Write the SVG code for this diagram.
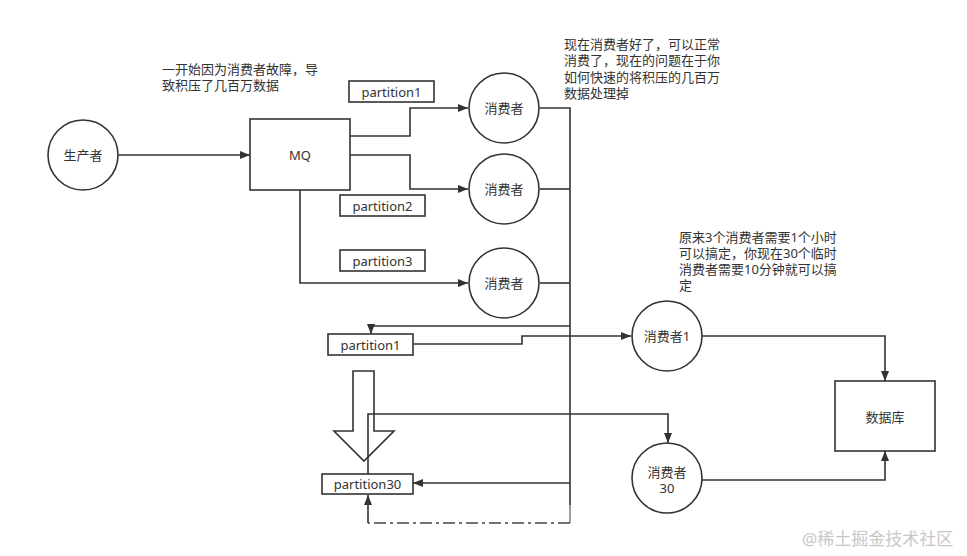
<svg xmlns="http://www.w3.org/2000/svg" width="967" height="556" viewBox="0 0 967 556">
<defs>
<marker id="ah" viewBox="0 0 10 8" refX="10" refY="4" markerWidth="10" markerHeight="8" markerUnits="userSpaceOnUse" orient="auto">
<path d="M0,0 L10,4 L0,8 z" fill="#333"/>
</marker>
</defs>
<style>
.n{fill:#fff;stroke:#333;stroke-width:1.6}
.c{fill:none;stroke:#333;stroke-width:1.6}
text{font-family:"Noto Sans","Noto Sans CJK SC",sans-serif;font-size:13px;fill:#333}
.m{text-anchor:middle;dominant-baseline:central}
.wm{fill:#c8c8c8;font-size:17px}
</style>
<rect width="967" height="556" fill="#fff"/>
<g id="connectors">
<path class="c" d="M118,155 H250" marker-end="url(#ah)"/>
<path class="c" d="M350,136 H410 V108 H468" marker-end="url(#ah)"/>
<path class="c" d="M350,155 H410 V189 H468" marker-end="url(#ah)"/>
<path class="c" d="M300,190 V283 H468" marker-end="url(#ah)"/>
<path class="c" d="M540,108 H570 V505"/>
<path class="c" d="M540,189 H570"/>
<path class="c" d="M540,283 H570"/>
<path fill="none" stroke="#888" stroke-width="1.6" d="M570,505 V523"/>
<path fill="none" stroke="#444" stroke-width="1.6" stroke-dasharray="12,4,3,4" d="M570,523 H368"/>
<path class="c" d="M368,523 V495" marker-end="url(#ah)"/>
<path class="c" d="M570,326 H371 V334" marker-end="url(#ah)"/>
<path class="c" d="M413,344 H522 V336 H631" marker-end="url(#ah)"/>
<path class="c" d="M570,483 H413" marker-end="url(#ah)"/>
<path class="c" d="M368,474 V414 H668 V443" marker-end="url(#ah)"/>
<path class="c" d="M702,336 H885 V381" marker-end="url(#ah)"/>
<path class="c" d="M702,480 H885 V451" marker-end="url(#ah)"/>
<polygon class="c" points="353,371 374,371 374,431 394,431 364,461 334,431 353,431"/>
</g>
<g id="producer"><circle class="n" cx="83" cy="155" r="35"/><text class="m" x="83" y="155">生产者</text></g>
<g id="mq"><rect class="n" x="250" y="119" width="100" height="71"/><text class="m" x="300" y="155">MQ</text></g>
<g id="p1"><rect class="n" x="349" y="81" width="85" height="21"/><text class="m" x="391.5" y="91.5">partition1</text></g>
<g id="p2"><rect class="n" x="340" y="195" width="85" height="21"/><text class="m" x="382.5" y="205.5">partition2</text></g>
<g id="p3"><rect class="n" x="340" y="250" width="85" height="21"/><text class="m" x="382.5" y="260.5">partition3</text></g>
<g id="c1"><circle class="n" cx="504" cy="108" r="35"/><text class="m" x="504" y="108">消费者</text></g>
<g id="c2"><circle class="n" cx="504" cy="189" r="35"/><text class="m" x="504" y="189">消费者</text></g>
<g id="c3"><circle class="n" cx="504" cy="283" r="35"/><text class="m" x="504" y="283">消费者</text></g>
<g id="np1"><rect class="n" x="328" y="334" width="85" height="21"/><text class="m" x="370.5" y="344.5">partition1</text></g>
<g id="np30"><rect class="n" x="322" y="474" width="91" height="20"/><text class="m" x="367.5" y="484">partition30</text></g>
<g id="tc1"><circle class="n" cx="667" cy="336" r="35"/><text class="m" x="667" y="336">消费者1</text></g>
<g id="tc30"><circle class="n" cx="667" cy="478" r="35"/><text class="m" x="667" y="472">消费者</text><text class="m" x="667" y="488">30</text></g>
<g id="db"><rect class="n" x="835" y="381" width="100" height="70"/><text class="m" x="885" y="417">数据库</text></g>
<g id="note1"><text x="162" y="74">一开始因为消费者故障，导</text><text x="162" y="90">致积压了几百万数据</text></g>
<g id="note2"><text x="564" y="49">现在消费者好了，可以正常</text><text x="564" y="65">消费了，现在的问题在于你</text><text x="564" y="82">如何快速的将积压的几百万</text><text x="564" y="98">数据处理掉</text></g>
<g id="note3"><text x="679" y="242">原来3个消费者需要1个小时</text><text x="679" y="258">可以搞定，你现在30个临时</text><text x="679" y="274">消费者需要10分钟就可以搞</text><text x="679" y="290">定</text></g>
<text class="wm" x="802" y="545">@稀土掘金技术社区</text>
</svg>
